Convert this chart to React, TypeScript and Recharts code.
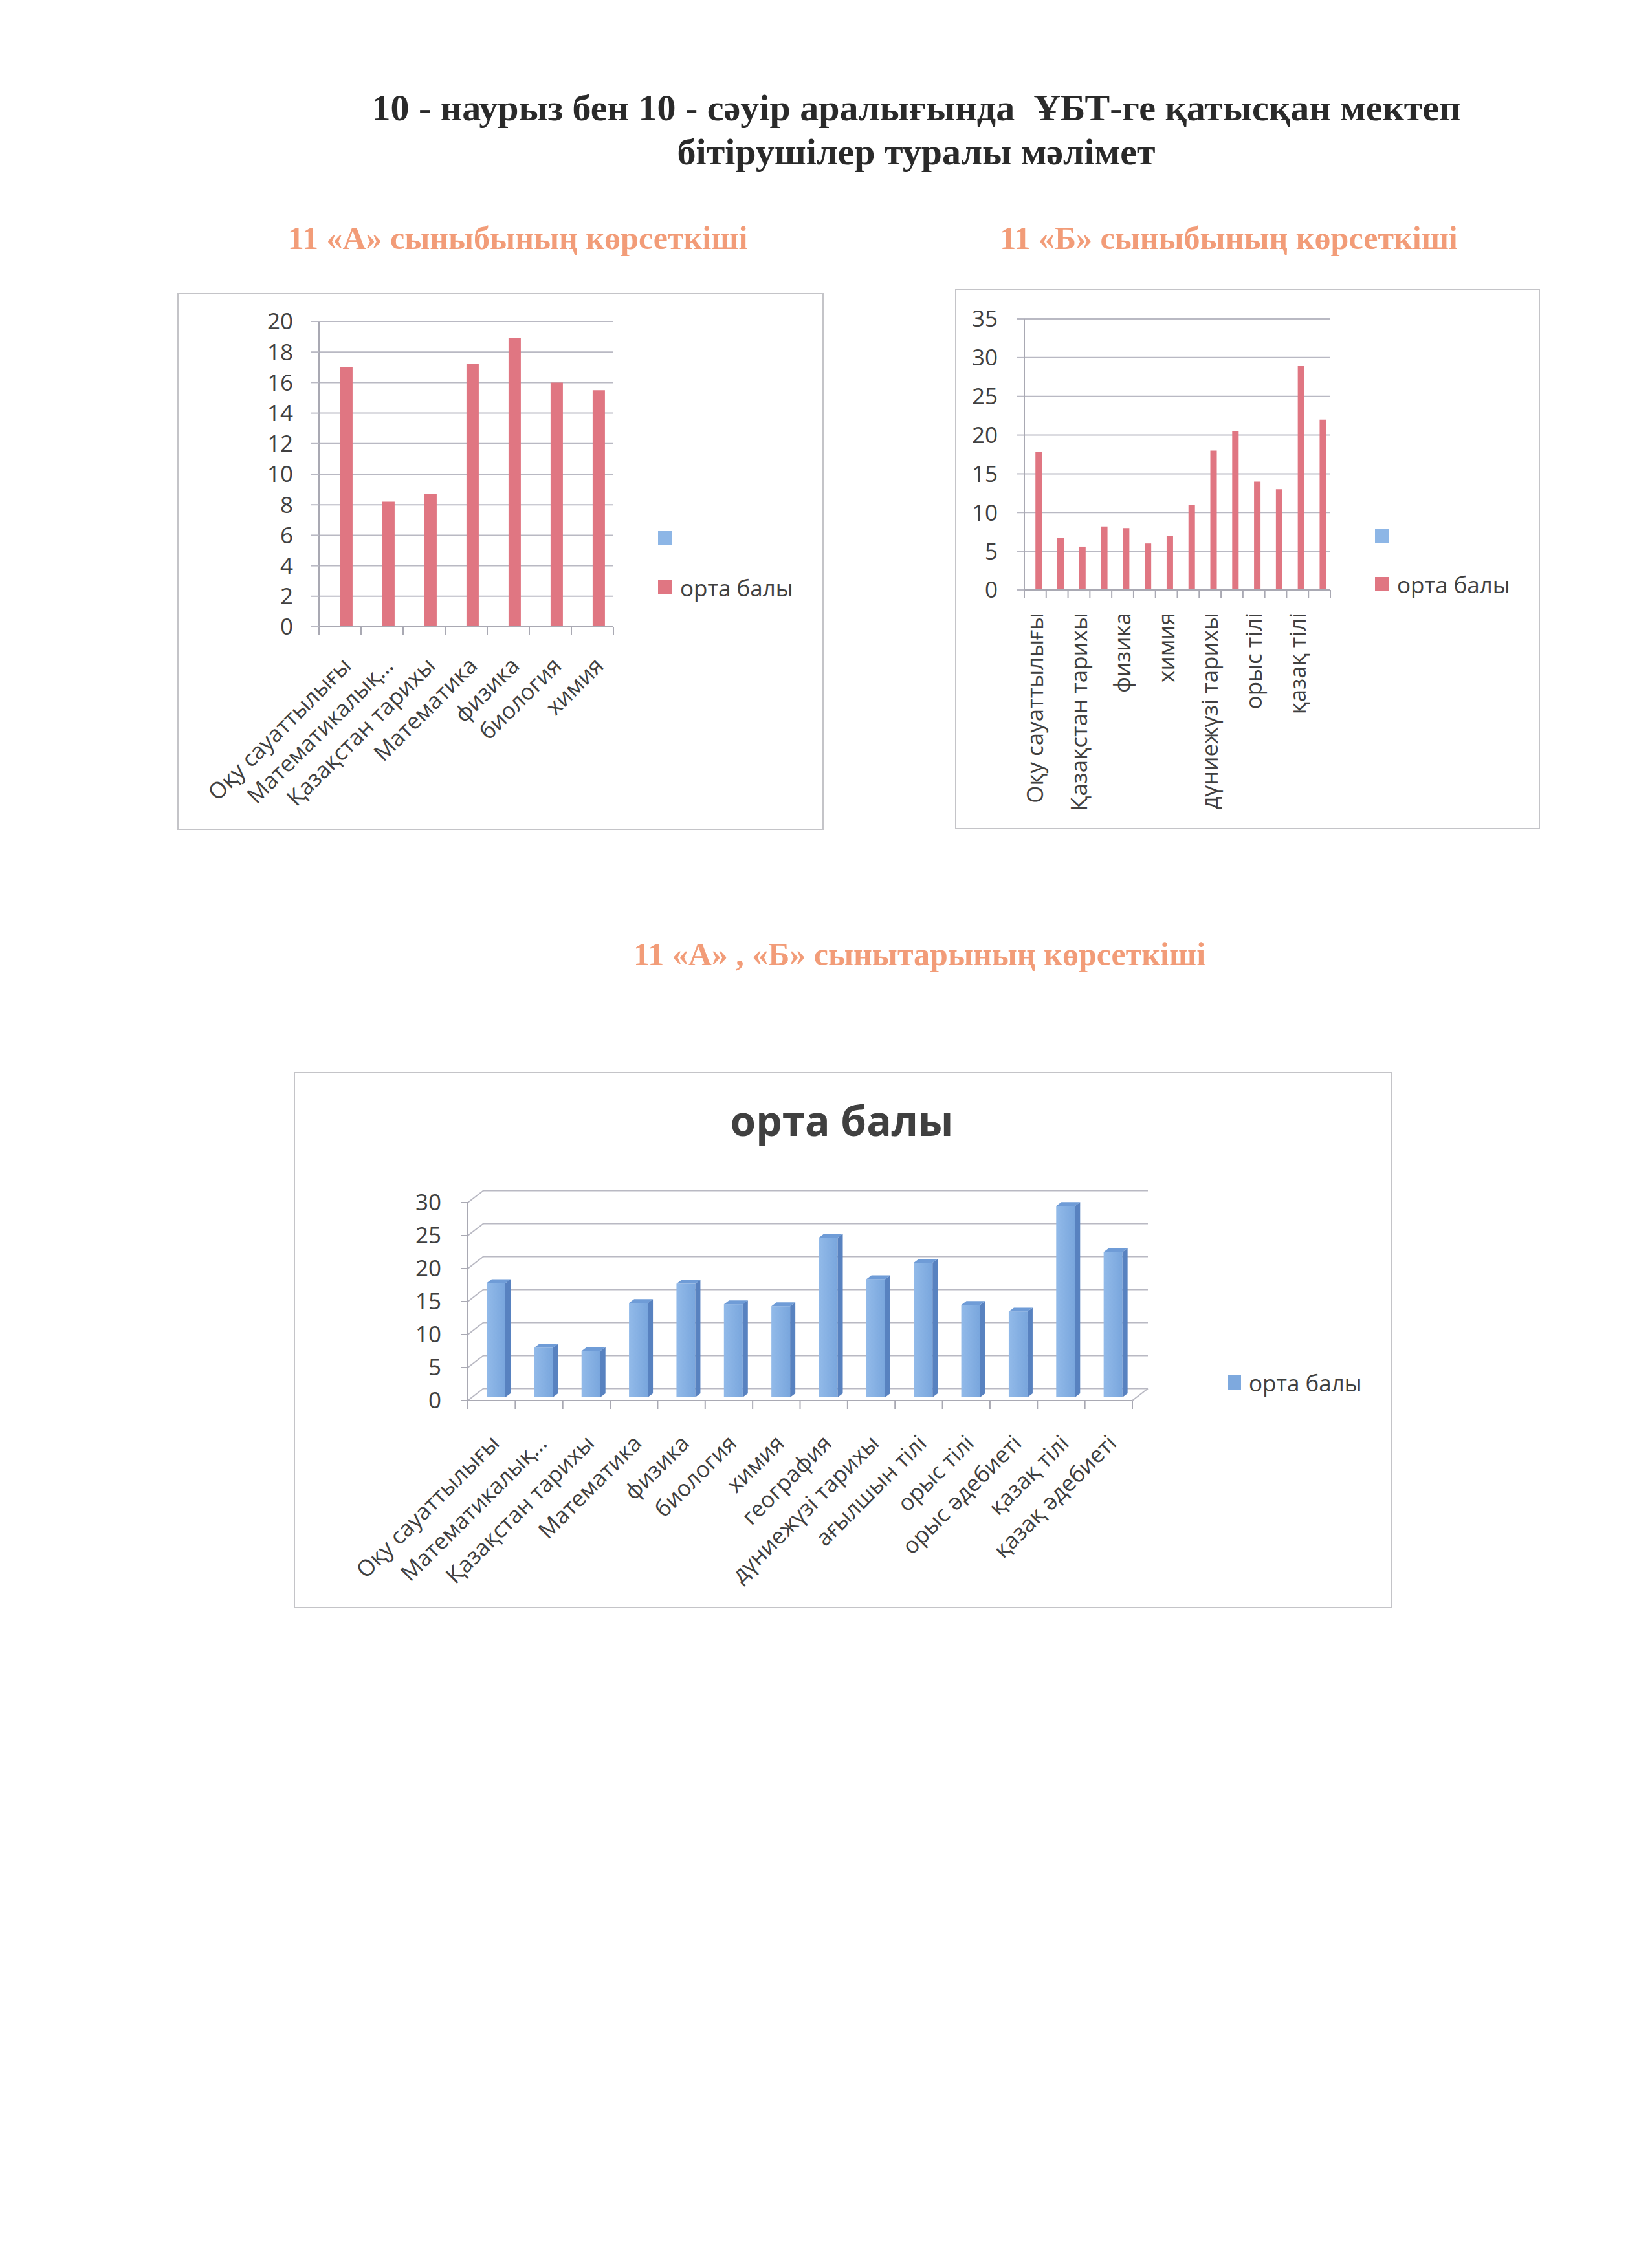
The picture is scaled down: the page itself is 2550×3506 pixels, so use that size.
import React from 'react';
import { BarChart, Bar, XAxis, YAxis, CartesianGrid, Legend } from 'recharts';

// ---------- data ----------
const subjectsA = ['Оқу сауаттылығы', 'Математикалық…', 'Қазақстан тарихы', 'Математика', 'физика', 'биология', 'химия'];
const scoresA = [17.0, 8.2, 8.7, 17.2, 18.9, 16.0, 15.5];
const blankA: (number | null)[] = [null, null, null, null, null, null, null];
const ticksA = [0, 2, 4, 6, 8, 10, 12, 14, 16, 18, 20];

const subjectsB = ['Оқу сауаттылығы', 'Математикалық сауаттылық', 'Қазақстан тарихы', 'Математика', 'физика', 'биология', 'химия', 'география', 'дүниежүзі тарихы', 'ағылшын тілі', 'орыс тілі', 'орыс әдебиеті', 'қазақ тілі', 'қазақ әдебиеті'];
const scoresB = [17.8, 6.7, 5.6, 8.2, 8.0, 6.0, 7.0, 11.0, 18.0, 20.5, 14.0, 13.0, 28.9, 22.0];
const blankB: (number | null)[] = [null, null, null, null, null, null, null, null, null, null, null, null, null, null];
const ticksB = [0, 5, 10, 15, 20, 25, 30, 35];

const subjectsC = ['Оқу сауаттылығы', 'Математикалық…', 'Қазақстан тарихы', 'Математика', 'физика', 'биология', 'химия', 'география', 'дүниежүзі тарихы', 'ағылшын тілі', 'орыс тілі', 'орыс әдебиеті', 'қазақ тілі', 'қазақ әдебиеті'];
const scoresC = [17.3, 7.5, 7.0, 14.3, 17.2, 14.1, 13.8, 24.2, 17.9, 20.4, 14.0, 13.0, 29.0, 22.0];
const ticksC = [0, 5, 10, 15, 20, 25, 30];

const seriesName = 'орта балы';
const pageTitle1 = '10 - наурыз бен 10 - сәуір аралығында  ҰБТ-ге қатысқан мектеп';
const pageTitle2 = 'бітірушілер туралы мәлімет';
const titleA = '11 «А» сыныбының көрсеткіші';
const titleB = '11 «Б» сыныбының көрсеткіші';
const titleC = '11 «А» , «Б» сынытарының көрсеткіші';

const dataA = subjectsA.map((name, i) => ({ name, blank: blankA[i], score: scoresA[i] }));
const dataB = subjectsB.map((name, i) => ({ name, blank: blankB[i], score: scoresB[i] }));
const dataC = subjectsC.map((name, i) => ({ name, score: scoresC[i] }));

// ---------- styles ----------
const FONT = "'Open Sans', 'Noto Sans', sans-serif";
const SERIF = "'Liberation Serif', 'DejaVu Serif', serif";
const TEXT = '#404040';
const GRID = '#b9b9c3';
const AXIS = '#a9a9b3';
const FRAME = '#c4c4c8';
const RED = '#E07682';
const LBLUE = '#8DB6E6';
const SALMON = '#F29C78';
const TICK_FS = 35;

// 3D depth of chart C (back wall offset)
const DX = 24;
const DY = -18.5;

const CatTick = (props: any) => {
  const { x, y, payload, index, visibleTicksCount, angle, px, py, dyEm, every, tickLen, band, floorEdge } = props;
  const half = payload && payload.offset ? payload.offset : band / 2;
  const show = index % every === 0;
  const last = index === visibleTicksCount - 1;
  const tx = x + px;
  const ty = y + py;
  return (
    <g>
      <line x1={x - half} y1={y} x2={x - half} y2={y + tickLen} stroke={AXIS} strokeWidth={2} />
      {last ? <line x1={x + half} y1={y} x2={x + half} y2={y + tickLen} stroke={AXIS} strokeWidth={2} /> : null}
      {last && floorEdge ? <line x1={x + half} y1={y} x2={x + half + DX} y2={y + DY} stroke={GRID} strokeWidth={2} /> : null}
      {show ? (
        <text x={tx} y={ty} dy={dyEm} transform={`rotate(${angle}, ${tx}, ${ty})`} textAnchor="end"
          fontSize={TICK_FS} fontFamily={FONT} fill={TEXT}>{payload.value}</text>
      ) : null}
    </g>
  );
};

const legendContent = (rowGap: number, sqW: number, sqH: number) => (props: any) => {
  const items = props.payload || [];
  return (
    <div style={{ position: 'relative', width: 320, height: rowGap * items.length }}>
      {items.map((it: any, i: number) => (
        <div key={i} style={{ position: 'absolute', left: 0, top: i * rowGap, height: sqH, display: 'flex', alignItems: 'center', whiteSpace: 'nowrap' }}>
          <span style={{ display: 'inline-block', width: sqW, height: sqH, background: it.color }} />
          {String(it.value).trim() ? (
            <span style={{ marginLeft: 12, fontFamily: FONT, fontSize: TICK_FS, color: TEXT, lineHeight: 1 }}>{it.value}</span>
          ) : null}
        </div>
      ))}
    </div>
  );
};

const wallLine = (props: any) => {
  const { x1, y1, x2, y2, index } = props;
  return (
    <g key={`wall-${index}-${y1}`}>
      <line x1={x1} y1={y1} x2={x1 + DX} y2={y1 + DY} stroke={GRID} strokeWidth={2} />
      <line x1={x1 + DX} y1={y1 + DY} x2={x2 + DX} y2={y2 + DY} stroke={GRID} strokeWidth={2} />
    </g>
  );
};

const Bar3D = (props: any) => {
  const { x, y, width, height } = props;
  if (!(height > 0)) return null;
  const fx = x + 7;
  const fy = y - 5;
  const sd = 8;
  const sdy = -6;
  return (
    <g>
      <rect x={fx} y={fy} width={width} height={height} fill="url(#c3dFront)" />
      <polygon points={`${fx + width},${fy} ${fx + width + sd},${fy + sdy} ${fx + width + sd},${fy + height + sdy} ${fx + width},${fy + height}`} fill="#5882C0" />
      <polygon points={`${fx},${fy} ${fx + sd},${fy + sdy} ${fx + width + sd},${fy + sdy} ${fx + width},${fy}`} fill="#6F9CD7" />
    </g>
  );
};

const abs = (left: number, top: number, w: number, h: number): React.CSSProperties => ({
  position: 'absolute', left, top, width: w, height: h, boxSizing: 'border-box',
});

const Heading = ({ text, cx, cy, size, color, lh }: { text: string; cx: number; cy: number; size: number; color: string; lh: number }) => (
  <div style={{ position: 'absolute', left: cx - 1100, top: cy - lh / 2, width: 2200, textAlign: 'center', fontFamily: SERIF, fontWeight: 'bold', fontSize: size, lineHeight: `${lh}px`, color, whiteSpace: 'pre' }}>{text}</div>
);

export default function App() {
  return (
    <div style={{ position: 'absolute', left: 0, top: 0, width: 2550, height: 3506, background: '#ffffff', overflow: 'hidden' }}>
      <Heading text={pageTitle1} cx={1416} cy={167} size={58} color="#2a2a2a" lh={68} />
      <Heading text={pageTitle2} cx={1416} cy={235} size={58} color="#2a2a2a" lh={68} />
      <Heading text={titleA} cx={800} cy={368} size={50} color={SALMON} lh={60} />
      <Heading text={titleB} cx={1899} cy={368} size={50} color={SALMON} lh={60} />
      <Heading text={titleC} cx={1421} cy={1475} size={50} color={SALMON} lh={60} />

      {/* Chart A */}
      <div style={{ ...abs(274, 453, 999, 830), border: `2px solid ${FRAME}` }} />
      <div style={abs(274, 453, 999, 830)}>
        <BarChart width={999} height={830} data={dataA} margin={{ top: 44, right: 325, bottom: 0, left: 0 }} barGap={0} barCategoryGap="21.4%">
          <CartesianGrid vertical={false} stroke={GRID} strokeWidth={2} />
          <XAxis dataKey="name" height={314} interval={0} tickSize={0} tickMargin={0} tickLine={false}
            axisLine={{ stroke: AXIS, strokeWidth: 2 }}
            tick={(p: any) => <CatTick {...p} angle={-45} px={2} py={45} dyEm="0.7em" every={1} tickLen={12} band={65} />} />
          <YAxis width={219} domain={[0, 20]} ticks={ticksA} interval={0} tickSize={13} tickMargin={27}
            tickLine={{ stroke: GRID, strokeWidth: 2 }} axisLine={{ stroke: AXIS, strokeWidth: 2 }}
            tick={{ fontSize: TICK_FS, fontFamily: FONT, fill: TEXT }} />
          <Legend layout="horizontal" align="center" verticalAlign="middle"
            wrapperStyle={{ left: 743, top: 368, width: 320 }} content={legendContent(76, 22, 22)} />
          <Bar dataKey="blank" name=" " fill={LBLUE} isAnimationActive={false} />
          <Bar dataKey="score" name={seriesName} fill={RED} isAnimationActive={false} />
        </BarChart>
      </div>

      {/* Chart B */}
      <div style={{ ...abs(1476, 447, 904, 835), border: `2px solid ${FRAME}` }} />
      <div style={abs(1476, 447, 904, 835)}>
        <BarChart width={904} height={835} data={dataB} margin={{ top: 46, right: 324, bottom: 0, left: 0 }} barGap={0} barCategoryGap="21.4%">
          <CartesianGrid vertical={false} stroke={GRID} strokeWidth={2} />
          <XAxis dataKey="name" height={370} interval={0} tickSize={0} tickMargin={0} tickLine={false}
            axisLine={{ stroke: AXIS, strokeWidth: 2 }}
            tick={(p: any) => <CatTick {...p} angle={-90} px={0} py={35} dyEm="0.35em" every={2} tickLen={13} band={33.8} />} />
          <YAxis width={107} domain={[0, 35]} ticks={ticksB} interval={0} tickSize={12} tickMargin={29}
            tickLine={{ stroke: GRID, strokeWidth: 2 }} axisLine={{ stroke: AXIS, strokeWidth: 2 }}
            tick={{ fontSize: TICK_FS, fontFamily: FONT, fill: TEXT }} />
          <Legend layout="horizontal" align="center" verticalAlign="middle"
            wrapperStyle={{ left: 649, top: 370, width: 320 }} content={legendContent(75, 22, 22)} />
          <Bar dataKey="blank" name=" " fill={LBLUE} isAnimationActive={false} />
          <Bar dataKey="score" name={seriesName} fill={RED} isAnimationActive={false} />
        </BarChart>
      </div>

      {/* Chart C */}
      <div style={{ ...abs(454, 1657, 1698, 829), border: `2px solid ${FRAME}` }} />
      <div style={{ position: 'absolute', left: 1301 - 400, top: 1700, width: 800, textAlign: 'center', fontFamily: FONT, fontWeight: 'bold', fontSize: 64, lineHeight: '64px', color: TEXT }}>{seriesName}</div>
      <div style={abs(454, 1657, 1698, 829)}>
        <BarChart width={1698} height={829} data={dataC} margin={{ top: 202, right: 402, bottom: 0, left: 0 }} barCategoryGap="30%">
          <defs>
            <linearGradient id="c3dFront" x1="0" x2="1" y1="0" y2="0">
              <stop offset="0" stopColor="#92BAE9" />
              <stop offset="1" stopColor="#79A6DD" />
            </linearGradient>
          </defs>
          <CartesianGrid vertical={false} horizontal={wallLine} stroke={GRID} strokeWidth={2} />
          <XAxis dataKey="name" height={321} interval={0} tickSize={0} tickMargin={0} tickLine={false}
            axisLine={{ stroke: AXIS, strokeWidth: 2 }}
            tick={(p: any) => <CatTick {...p} angle={-45} px={-3} py={51} dyEm="0.7em" every={1} tickLen={13} band={73.36} floorEdge />} />
          <YAxis width={269} domain={[0, 30]} ticks={ticksC} interval={0} tickSize={10} tickMargin={31}
            tickLine={{ stroke: AXIS, strokeWidth: 2 }} axisLine={{ stroke: AXIS, strokeWidth: 2 }}
            tick={{ fontSize: TICK_FS, fontFamily: FONT, fill: TEXT }} />
          <Legend layout="horizontal" align="center" verticalAlign="middle"
            wrapperStyle={{ left: 1444, top: 469, width: 320 }} content={legendContent(76, 20, 22)} />
          <Bar dataKey="score" name={seriesName} fill="#7EA9DE" shape={Bar3D} isAnimationActive={false} />
        </BarChart>
      </div>
    </div>
  );
}
